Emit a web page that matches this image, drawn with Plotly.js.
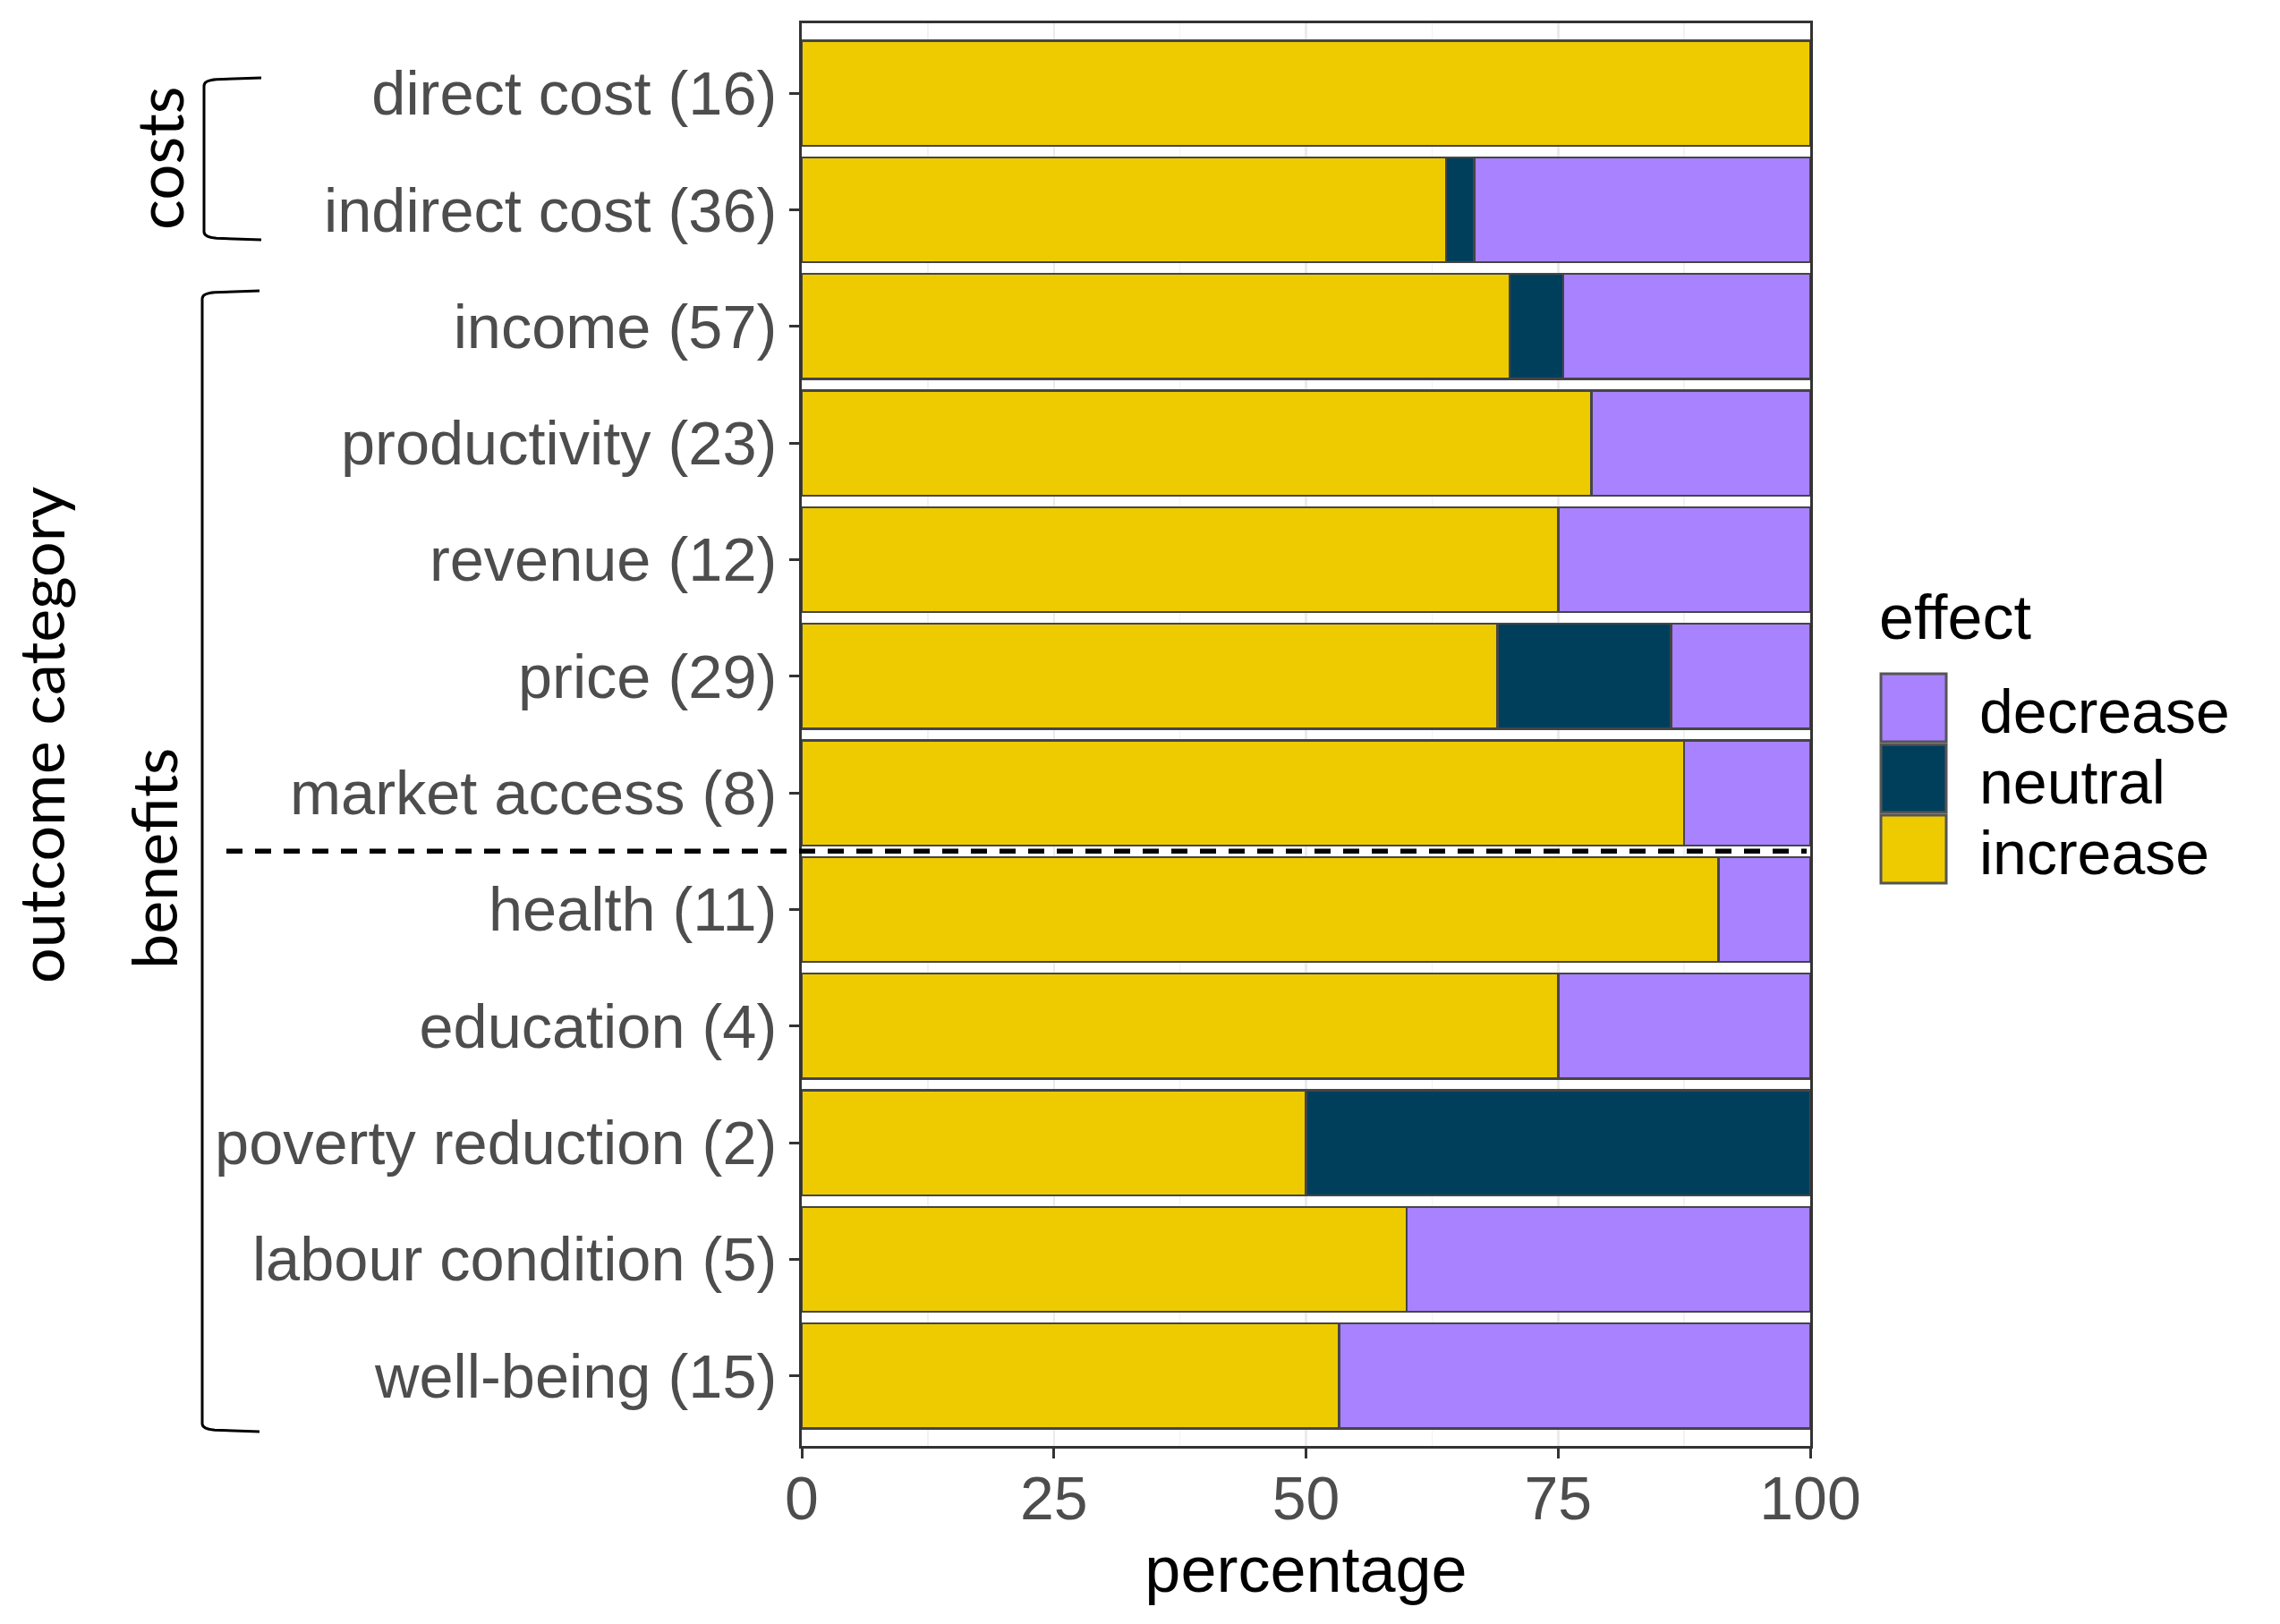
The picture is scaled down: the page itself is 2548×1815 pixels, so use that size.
<!DOCTYPE html>
<html>
<head>
<meta charset="utf-8">
<script src="https://cdn.plot.ly/plotly-3.0.1.min.js"></script>
<style>html,body{margin:0;padding:0;background:#fff;}#chart{width:2548px;height:1815px;}</style>
</head>
<body>
<div id="chart"></div>
<script>
// ---- data ----
const categories = ["direct cost (16)", "indirect cost (36)", "income (57)", "productivity (23)",
  "revenue (12)", "price (29)", "market access (8)", "health (11)", "education (4)",
  "poverty reduction (2)", "labour condition (5)", "well-being (15)"];
const increasePct = [100, 63.9, 70.2, 78.3, 75, 69.0, 87.5, 90.9, 75, 50, 60, 53.3];
const neutralPct  = [null, 2.8, 5.3, null, null, 17.2, null, null, null, 50, null, null];
const decreasePct = [null, 33.3, 24.5, 21.7, 25, 13.8, 12.5, 9.1, 25, null, 40, 46.7];
const seriesNames = ["increase", "neutral", "decrease"];
const seriesColors = {increase: "#EDCB00", neutral: "#003F5C", decrease: "#A982FF"};
const legendOrder = ["decrease", "neutral", "increase"];
const xTicks = [0, 25, 50, 75, 100];

const seriesValues = {increase: increasePct, neutral: neutralPct, decrease: decreasePct};
const outline = {color: "#454545", width: 2.5};
const traces = seriesNames.map(n => ({
  type: "bar", orientation: "h", name: n,
  y: categories, x: seriesValues[n],
  marker: {color: seriesColors[n], line: outline},
  showlegend: false, hoverinfo: "x+y+name"
}));

const W = 2548, H = 1815;
const L = 896, R = 2023, T = 26, B = 1616;
const px = v => (v - L) / (R - L);
const py = v => (B - v) / (B - T);

const shapes = [];
const annotations = [];

// dashed separator between market access and health
shapes.push({type: "line", xref: "paper", yref: "y", x0: px(253), x1: px(2019), y0: 6.5, y1: 6.5,
  line: {color: "#000", width: 5.5, dash: "18px,14px"}, layer: "above"});

// brackets
function bracket(yTopPx, yBotPx, xLinePx, xEndPx) {
  const xl = px(xLinePx), xe = px(xEndPx), xr = px(xLinePx + 14);
  const yt = py(yTopPx), yb = py(yBotPx), dy = 9 / (B - T);
  return {type: "path", xref: "paper", yref: "paper",
    path: `M ${xe},${yt} L ${xr},${yt - dy*0.2} Q ${xl},${yt - dy*0.3} ${xl},${yt - dy} ` +
          `L ${xl},${yb + dy} Q ${xl},${yb + dy*0.3} ${xr},${yb + dy*0.2} L ${xe},${yb}`,
    line: {color: "#000", width: 3}};
}
shapes.push(bracket(87, 268, 228, 292));
shapes.push(bracket(325, 1600, 226, 290));

const sideFont = {family: "Lato, 'Open Sans', sans-serif", size: 70, color: "#000"};
annotations.push({text: "costs", xref: "paper", yref: "paper", x: px(178), y: py(177),
  textangle: -90, showarrow: false, xanchor: "center", yanchor: "middle", font: {...sideFont, size: 71}});
annotations.push({text: "benefits", xref: "paper", yref: "paper", x: px(171), y: py(960),
  textangle: -90, showarrow: false, xanchor: "center", yanchor: "middle", font: sideFont});
annotations.push({text: "outcome category", xref: "paper", yref: "paper", x: px(45), y: py(822),
  textangle: -90, showarrow: false, xanchor: "center", yanchor: "middle", font: sideFont});

// legend (drawn manually to match big keys)
const legFont = {family: "'Liberation Sans', Arial, sans-serif", size: 68, color: "#000"};
annotations.push({text: "effect", xref: "paper", yref: "paper", x: px(2098), y: py(690),
  showarrow: false, xanchor: "left", yanchor: "middle", font: {...legFont, size: 70}});
const keyTops = [753, 832, 911];
legendOrder.forEach((n, i) => {
  const t = keyTops[i], b = t + 76;
  shapes.push({type: "rect", xref: "paper", yref: "paper", x0: px(2102), x1: px(2175),
    y0: py(b), y1: py(t), fillcolor: seriesColors[n], line: {color: "#555", width: 3}});
  annotations.push({text: n, xref: "paper", yref: "paper", x: px(2210), y: py((t + b) / 2 + 4),
    showarrow: false, xanchor: "left", yanchor: "middle", font: legFont});
});

const tickFont = {family: "'Liberation Sans', Arial, sans-serif", size: 68.5, color: "#4D4D4D"};
const layout = {
  width: W, height: H,
  margin: {l: L, r: W - R, t: T, b: H - B, pad: 0},
  paper_bgcolor: "#fff", plot_bgcolor: "#fff",
  barmode: "stack", bargap: 0.1,
  showlegend: false,
  xaxis: {
    range: [0, 100], tickvals: xTicks, ticktext: xTicks.map(String),
    ticks: "outside", ticklen: 11, tickwidth: 3, tickcolor: "#333",
    tickfont: {...tickFont, size: 68}, ticklabelstandoff: -14,
    showgrid: true, gridcolor: "#EBEBEB", gridwidth: 2.5,
    minor: {dtick: 12.5, tick0: 0, showgrid: true, gridcolor: "#F2F2F2", gridwidth: 1.3},
    showline: true, mirror: true, linecolor: "#333", linewidth: 3, zeroline: false,
    title: {text: "percentage", font: {family: "'Liberation Sans', Arial, sans-serif", size: 72, color: "#000"}, standoff: 19},
    fixedrange: true
  },
  yaxis: {
    type: "category", categoryorder: "array", categoryarray: categories,
    range: [categories.length - 0.4, -0.6],
    ticks: "outside", ticklen: 11, tickwidth: 3, tickcolor: "#333",
    tickfont: tickFont, showgrid: false,
    showline: true, mirror: true, linecolor: "#333", linewidth: 3, zeroline: false,
    fixedrange: true
  },
  shapes: shapes, annotations: annotations
};

Plotly.newPlot("chart", traces, layout, {displayModeBar: false, staticPlot: true});
</script>
</body>
</html>
